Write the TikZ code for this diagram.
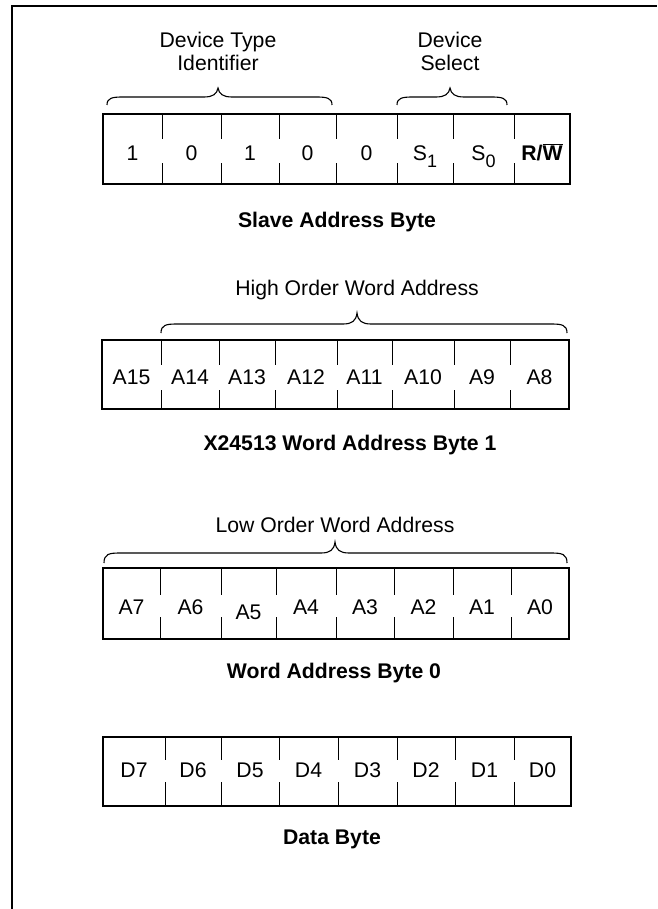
\documentclass[tikz,border=0pt]{standalone}
\usepackage{fontspec}
\setmainfont{Liberation Sans}
\newcommand\subl[1]{\raisebox{-7pt}{\fontsize{18}{18}\selectfont #1}}
\newcommand\curlybr[6]{%
 \draw[bracel] (#1,#4) .. controls (#1,#5+1) and (#1+5,#5) .. (#1+16,#5) -- (#2-14,#5)
   .. controls (#2-5,#5) and (#2-1,#5-3) .. (#2,#6)
   .. controls (#2+1,#5-3) and (#2+5,#5) .. (#2+14,#5) -- (#3-16,#5)
   .. controls (#3-5,#5) and (#3,#5+1) .. (#3,#4);}
\begin{document}
\begin{tikzpicture}[x=1pt,y=-1pt,
  cell/.style={inner sep=0pt, outer sep=0pt, text depth=0pt, font=\fontsize{21.2}{25}\selectfont},
  boxline/.style={line width=2.4pt},
  divline/.style={line width=0.9pt},
  bracel/.style={line width=1.1pt},
  framel/.style={line width=1.5pt},
  lbl/.style={inner sep=0pt, align=center, font=\fontsize{21.2}{23}\selectfont},
  captext/.style={inner sep=0pt, font=\bfseries\fontsize{21.2}{25}\selectfont}]
\useasboundingbox (0,0) rectangle (657,909);
\draw[framel] (12,909) -- (12,6) -- (657,6);

% ---- Slave address byte
\foreach \i/\xa/\xb/\t in {1/103/162/1, 2/162/221/0, 3/221/279/1, 4/279/336/0, 5/336/397/0,
   6/397/453/{S\subl{1}}, 7/453/514/{S\subl{0}}, 8/514/570/{\bfseries R/$\overline{\mbox{W}}$}}
  \node[cell, minimum width={(\xb-\xa)*1pt}, minimum height=70pt, text height=23.2pt]
     (b1c\i) at ({(\xa+\xb)/2}, 149) {\t};
\draw[boxline] (b1c1.north west) rectangle (b1c8.south east);
\foreach \i in {1,...,7} {
  \draw[divline] (b1c\i.north east) -- ++(0,25);
  \draw[divline] (b1c\i.south east) -- ++(0,-21);}
\curlybr{107}{218}{332}{105}{97}{88}
\curlybr{397}{450}{507}{105}{97}{88}
\node[lbl] (dti) at (218,51.5) {Device Type\\Identifier};
\node[lbl] (dsel) at (450,51.5) {Device\\Select};
\node[captext] (c1) at (337,222) {Slave Address Byte};

% ---- Word address byte 1
\foreach \i/\xa/\xb/\t in {1/102/161/A15, 2/161/219/A14, 3/219/275/A13, 4/275/337/A12,
   5/337/392/A11, 6/392/454/A10, 7/454/510/A9, 8/510/569/A8}
  \node[cell, minimum width={(\xb-\xa)*1pt}, minimum height=69pt, text height=19.2pt]
     (b2c\i) at ({(\xa+\xb)/2}, 374.5) {\t};
\draw[boxline] (b2c1.north west) rectangle (b2c8.south east);
\foreach \i in {1,...,7} {
  \draw[divline] (b2c\i.north east) -- ++(0,25);
  \draw[divline] (b2c\i.south east) -- ++(0,-19);}
\curlybr{161}{357}{567}{333}{324}{313}
\node[lbl] (hoa) at (357,290) {High Order Word Address};
\node[captext] (c2) at (350,445) {X24513 Word Address Byte 1};

% ---- Word address byte 0
\foreach \i/\xa/\xb/\t in {1/103/160/A7, 2/160/221/A6, 3/221/276/{\raisebox{-5pt}{A5}}, 4/276/336/A4,
   5/336/394/A3, 6/394/453/A2, 7/453/511/A1, 8/511/569/A0}
  \node[cell, minimum width={(\xb-\xa)*1pt}, minimum height=71pt, text height=21.2pt]
     (b3c\i) at ({(\xa+\xb)/2}, 603.5) {\t};
\draw[boxline] (b3c1.north west) rectangle (b3c8.south east);
\foreach \i in {1,...,7} {
  \draw[divline] (b3c\i.north east) -- ++(0,27);
  \draw[divline] (b3c\i.south east) -- ++(0,-22);}
\curlybr{104}{335}{567}{563}{553}{542}
\node[lbl] (loa) at (335,525) {Low Order Word Address};
\node[captext] (c3) at (334,673) {Word Address Byte 0};

% ---- Data byte
\foreach \i/\xa/\xb/\t in {1/103/165/D7, 2/165/221/D6, 3/221/279/D5, 4/279/338/D4,
   5/338/397/D3, 6/397/455/D2, 7/455/514/D1, 8/514/571/D0}
  \node[cell, minimum width={(\xb-\xa)*1pt}, minimum height=69pt, text height=12.2pt]
     (b4c\i) at ({(\xa+\xb)/2}, 771.5) {\t};
\draw[boxline] (b4c1.north west) rectangle (b4c8.south east);
\foreach \i in {1,...,7} {
  \draw[divline] (b4c\i.north east) -- ++(0,23);
  \draw[divline] (b4c\i.south east) -- ++(0,-24);}
\node[captext] (c4) at (332,839) {Data Byte};
\end{tikzpicture}
\end{document}
